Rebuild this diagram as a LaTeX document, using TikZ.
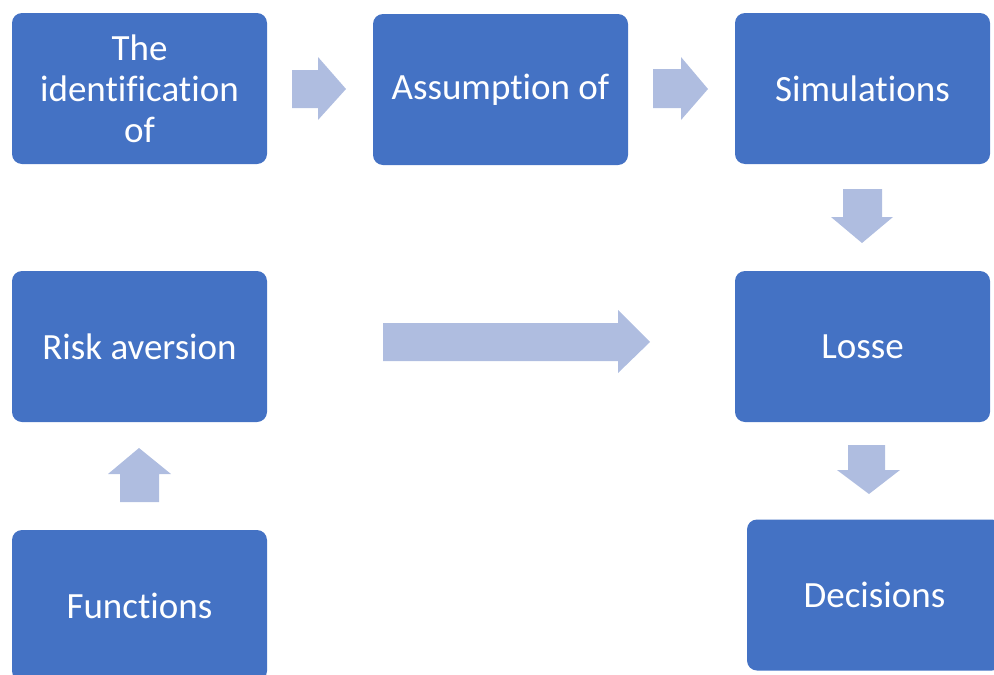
\documentclass[tikz,border=0pt]{standalone}
\usepackage{fontspec}
\setmainfont[Ligatures=CommonOff]{Carlito}
\begin{document}
\begin{tikzpicture}[x=1pt,y=-1pt,
  stagebox/.style={fill=boxblue, draw=none, rounded corners=10pt,
    minimum width=255pt, minimum height=151pt, inner sep=0pt,
    text=white, align=center,
    font=\fontsize{37}{41}\selectfont},
  blockarrow/.style={fill=arrowblue, draw=none}]
\definecolor{boxblue}{HTML}{4472C4}
\definecolor{arrowblue}{HTML}{AFBDE0}
\useasboundingbox (0,0) rectangle (994,675);
\clip (0,0) rectangle (994,675);

% process stages
\node[stagebox] (ident) at (139.5,88.5) {The\\identification\\of};
\node[stagebox] (assume) at (500.5,89.5) {Assumption of};
\node[stagebox] (sim) at (862.5,88.5) {Simulations};
\node[stagebox] (risk) at (139.5,346.5) {Risk aversion};
\node[stagebox] (loss) at (862.5,346.5) {Losse};
\node[stagebox] (func) at (139.5,605.5) {Functions};
\node[stagebox] (dec) at (874.5,595) {Decisions};

% block arrows between stages
\fill[blockarrow] (292,70) -- (318,70) -- (318,57) -- (346,89)
  -- (318,120) -- (318,108) -- (292,108) -- cycle;
\fill[blockarrow] (653,69) -- (681,69) -- (681,57) -- (708,89)
  -- (681,120) -- (681,108) -- (653,108) -- cycle;
\fill[blockarrow] (383,323) -- (618,323) -- (618,310) -- (650,342)
  -- (618,373) -- (618,361) -- (383,361) -- cycle;
\fill[blockarrow] (843,189) -- (882,189) -- (882,217) -- (893,217)
  -- (862,243) -- (831,217) -- (843,217) -- cycle;
\fill[blockarrow] (848,445) -- (885,445) -- (885,470) -- (900,470)
  -- (869,494) -- (837,470) -- (848,470) -- cycle;
\fill[blockarrow] (120,502) -- (120,474) -- (108,474) -- (139,448)
  -- (171,474) -- (159,474) -- (159,502) -- cycle;
\end{tikzpicture}
\end{document}
